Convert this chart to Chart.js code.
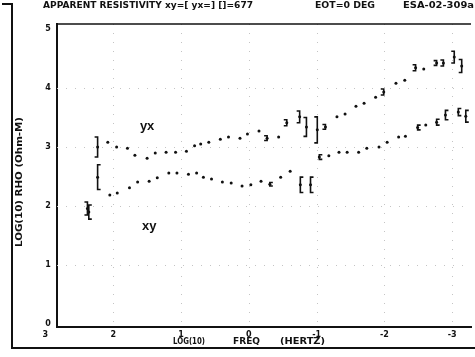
<!DOCTYPE html>
<html>
<head>
<meta charset="utf-8">
<script src="https://cdn.jsdelivr.net/npm/chart.js@4/dist/chart.umd.min.js"></script>
<style>
  html, body { margin: 0; padding: 0; background: #fff; overflow: hidden; }
  #wrap { position: relative; width: 475px; height: 357px; }
</style>
</head>
<body>
<div id="wrap"><canvas id="c"></canvas></div>
<script>
// ---- data (log10 frequency in Hz, log10 apparent resistivity in Ohm-m, error half-width) ----
const yxFreq = [2.38, 2.23, 2.08, 1.95, 1.79, 1.68, 1.50, 1.38, 1.22, 1.08, 0.92, 0.80, 0.71, 0.59, 0.42, 0.30, 0.13, 0.02, -0.15, -0.27, -0.44, -0.56, -0.75, -0.85, -1.01, -1.13, -1.30, -1.42, -1.58, -1.70, -1.87, -1.99, -2.17, -2.30, -2.46, -2.58, -2.77, -2.87, -3.03, -3.14];
const yxRho  = [1.96, 3.00, 3.08, 3.00, 2.98, 2.86, 2.81, 2.90, 2.91, 2.91, 2.93, 3.02, 3.05, 3.08, 3.13, 3.17, 3.15, 3.22, 3.27, 3.15, 3.17, 3.41, 3.51, 3.34, 3.29, 3.34, 3.51, 3.56, 3.69, 3.74, 3.84, 3.93, 4.08, 4.13, 4.34, 4.32, 4.42, 4.42, 4.52, 4.37];
const yxErr  = [0.11, 0.17, 0.00, 0.00, 0.00, 0.00, 0.00, 0.00, 0.00, 0.00, 0.00, 0.00, 0.00, 0.00, 0.00, 0.00, 0.00, 0.00, 0.00, 0.04, 0.00, 0.05, 0.10, 0.16, 0.22, 0.04, 0.00, 0.00, 0.00, 0.00, 0.00, 0.05, 0.00, 0.00, 0.05, 0.00, 0.04, 0.05, 0.10, 0.11];

const xyFreq = [2.36, 2.23, 2.05, 1.94, 1.76, 1.64, 1.47, 1.35, 1.18, 1.06, 0.89, 0.77, 0.67, 0.55, 0.39, 0.26, 0.10, -0.03, -0.18, -0.31, -0.47, -0.61, -0.76, -0.91, -1.04, -1.18, -1.33, -1.45, -1.62, -1.74, -1.92, -2.04, -2.21, -2.31, -2.49, -2.61, -2.77, -2.90, -3.09, -3.20];
const xyRho  = [1.90, 2.49, 2.19, 2.22, 2.31, 2.41, 2.42, 2.48, 2.56, 2.56, 2.54, 2.56, 2.49, 2.46, 2.41, 2.39, 2.34, 2.36, 2.42, 2.37, 2.49, 2.59, 2.36, 2.36, 2.83, 2.85, 2.91, 2.91, 2.91, 2.98, 3.00, 3.08, 3.17, 3.18, 3.33, 3.37, 3.42, 3.54, 3.59, 3.52];
const xyErr  = [0.12, 0.21, 0.00, 0.00, 0.00, 0.00, 0.00, 0.00, 0.00, 0.00, 0.00, 0.00, 0.00, 0.00, 0.00, 0.00, 0.00, 0.00, 0.00, 0.03, 0.00, 0.00, 0.13, 0.13, 0.04, 0.00, 0.00, 0.00, 0.00, 0.00, 0.00, 0.00, 0.00, 0.00, 0.04, 0.00, 0.05, 0.08, 0.06, 0.10];

const xTickLabels = [3, 2, 1, 0, -1, -2, -3];
const yTickLabels = [0, 1, 2, 3, 4, 5];
const xGridValues = [2, 1, 0, -1, -2, -3];
const yGridValues = [1, 2, 3, 4];
const seriesNames = ['yx', 'xy'];
const seriesLabelPos = [[1.50, 3.35], [1.47, 1.66]];

const titleLeft = 'APPARENT RESISTIVITY xy=[ yx=] []=677';
const titleMid = 'EOT=0 DEG';
const titleRight = 'ESA-02-309a';
const yTitle = 'LOG(10) RHO (Ohm-M)';
const xTitleParts = ['LOG(10)', 'FREQ', '(HERTZ)'];

function pts(xs, ys) { return xs.map((x, i) => ({ x: x, y: ys[i] })); }

const FONT = '"DejaVu Sans", "Liberation Sans", sans-serif';

function fitText(ctx, text, x0, x1, yc, font) {
  ctx.save();
  ctx.font = font;
  const w = ctx.measureText(text).width;
  const sx = (x1 - x0) / w;
  ctx.translate(x0, yc);
  ctx.scale(sx, 1);
  ctx.textAlign = 'left';
  ctx.textBaseline = 'middle';
  ctx.fillText(text, 0, 0);
  ctx.restore();
}

const decor = {
  id: 'decor',
  beforeDatasetsDraw(chart) {
    const ctx = chart.ctx;
    const xs = chart.scales.x, ys = chart.scales.y;
    const ca = chart.chartArea;
    ctx.save();
    ctx.strokeStyle = '#c4c4c4';
    ctx.lineWidth = 1;
    ctx.setLineDash([1, 8]);
    ctx.beginPath();
    xGridValues.forEach(v => {
      const x = Math.round(xs.getPixelForValue(v)) + 0.5;
      ctx.moveTo(x, ca.top); ctx.lineTo(x, ca.bottom);
    });
    yGridValues.forEach(v => {
      const y = Math.round(ys.getPixelForValue(v)) + 0.5;
      ctx.moveTo(ca.left, y); ctx.lineTo(ca.right, y);
    });
    ctx.stroke();
    ctx.restore();
  },
  afterDatasetsDraw(chart) {
    const ctx = chart.ctx;
    const ys = chart.scales.y;
    ctx.save();
    ctx.strokeStyle = '#111';
    const errs = [yxErr, xyErr];
    const vals = [yxRho, xyRho];
    const dirs = [-1, 1];
    chart.data.datasets.forEach((ds, di) => {
      const meta = chart.getDatasetMeta(di);
      meta.data.forEach((el, i) => {
        const e = errs[di][i];
        if (!e) return;
        const x = el.x;
        const yTop = ys.getPixelForValue(vals[di][i] + e);
        const yBot = ys.getPixelForValue(vals[di][i] - e);
        const s = dirs[di] * 3;
        ctx.lineWidth = 1.6;
        ctx.beginPath();
        ctx.moveTo(x + s, yTop);
        ctx.lineTo(x, yTop);
        ctx.lineTo(x, yBot);
        ctx.lineTo(x + s, yBot);
        ctx.stroke();
      });
    });
    ctx.restore();
  },
  afterDraw(chart) {
    const ctx = chart.ctx;
    const xs = chart.scales.x, ys = chart.scales.y;
    const ca = chart.chartArea;
    ctx.save();
    ctx.fillStyle = '#111';
    ctx.strokeStyle = '#111';
    // outer page frame
    ctx.lineWidth = 2;
    ctx.beginPath();
    ctx.moveTo(2, 4); ctx.lineTo(12, 4);
    ctx.moveTo(12, 3); ctx.lineTo(12, 349);
    ctx.moveTo(11, 348); ctx.lineTo(475, 348);
    ctx.stroke();
    // plot top border
    ctx.lineWidth = 1.5;
    ctx.beginPath();
    ctx.moveTo(ca.left, ca.top); ctx.lineTo(ca.right, ca.top);
    ctx.stroke();
    // titles
    const tf = 'bold 8px ' + FONT;
    fitText(ctx, titleLeft, 43, 253, 6, tf);
    fitText(ctx, titleMid, 315, 375, 6, tf);
    fitText(ctx, titleRight, 403, 474, 6, tf);
    // x title
    const xf = 'bold 9px ' + FONT;
    fitText(ctx, xTitleParts[0], 173, 205, 342, xf);
    fitText(ctx, xTitleParts[1], 233, 260, 342, xf);
    fitText(ctx, xTitleParts[2], 280, 325, 342, xf);
    // y title (rotated)
    ctx.save();
    ctx.translate(20, 0);
    ctx.rotate(-Math.PI / 2);
    fitText(ctx, yTitle, -247, -117, 0, tf);
    ctx.restore();
    // tick labels
    ctx.font = 'bold 8px ' + FONT;
    ctx.textAlign = 'center';
    ctx.textBaseline = 'middle';
    xTickLabels.forEach(v => {
      ctx.fillText(v < 0 ? '-' + Math.abs(v) : String(v), xs.getPixelForValue(v), 335);
    });
    yTickLabels.forEach(v => {
      ctx.fillText(String(v), 48, ys.getPixelForValue(v));
    });
    // series labels
    ctx.font = 'bold 13px "Liberation Sans", Arial, sans-serif';
    seriesNames.forEach((n, i) => {
      ctx.fillText(n, xs.getPixelForValue(seriesLabelPos[i][0]), ys.getPixelForValue(seriesLabelPos[i][1]));
    });
    ctx.restore();
  }
};

new Chart(document.getElementById('c'), {
  type: 'scatter',
  data: {
    datasets: [
      { label: seriesNames[0], data: pts(yxFreq, yxRho), pointRadius: 1.5, pointBackgroundColor: '#111', pointBorderWidth: 0, showLine: false },
      { label: seriesNames[1], data: pts(xyFreq, xyRho), pointRadius: 1.5, pointBackgroundColor: '#111', pointBorderWidth: 0, showLine: false }
    ]
  },
  options: {
    responsive: true,
    maintainAspectRatio: false,
    devicePixelRatio: 1,
    animation: false,
    layout: { padding: { left: 57, top: 24, right: 0, bottom: 30 } },
    plugins: { legend: { display: false }, tooltip: { enabled: false } },
    scales: {
      x: {
        type: 'linear', reverse: true, min: -3.277, max: 2.829,
        ticks: { display: false },
        grid: { display: false, drawTicks: false },
        border: { display: true, color: '#111', width: 2 }
      },
      y: {
        type: 'linear', min: -0.044, max: 5.08,
        ticks: { display: false },
        grid: { display: false, drawTicks: false },
        border: { display: true, color: '#111', width: 2 }
      }
    }
  },
  plugins: [decor]
});
</script>
</body>
</html>
